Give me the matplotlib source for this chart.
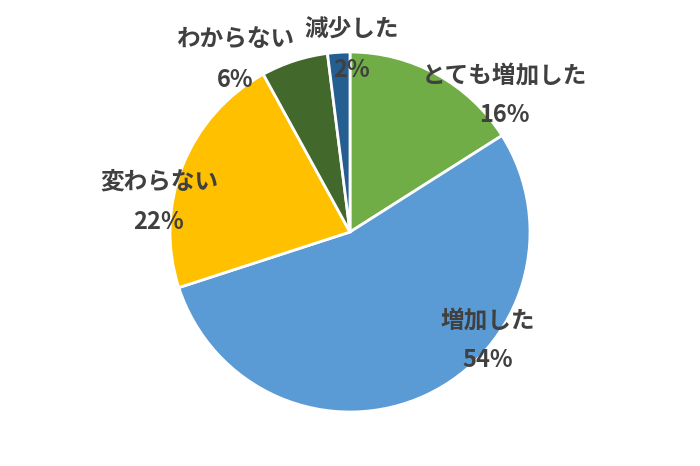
import matplotlib.pyplot as plt

plt.rcParams['font.family'] = ['Noto Sans CJK JP', 'DejaVu Sans']

labels = ['とても増加した', '増加した', '変わらない', 'わからない', '減少した']
values = [16, 54, 22, 6, 2]
colors = ['#70AD47', '#5B9BD5', '#FFC000', '#43682B', '#255E91']

# label block centres (pie radius = 1, centre at origin)
label_pos = [(0.856, 0.761), (0.767, -0.6), (-1.061, 0.167), (-0.64, 0.956), (0.011, 1.011)]

fig = plt.figure(figsize=(7, 4.66), dpi=100)
ax = fig.add_axes([0, 0, 1, 1])

ax.pie(values, colors=colors, startangle=90, counterclock=False, radius=1,
       wedgeprops=dict(edgecolor='white', linewidth=2))

for lab, v, (x, y) in zip(labels, values, label_pos):
    ax.text(x, y + 0.111, lab, ha='center', va='center', fontsize=17,
            color='#404040', fontweight='bold')
    ax.text(x, y - 0.111, f'{v}%', ha='center', va='center', fontsize=17,
            color='#404040', fontweight='bold')

ax.set_xlim(-350 / 180, 350 / 180)
ax.set_ylim(-234 / 180, 232 / 180)
ax.set_aspect('auto')
ax.axis('off')

fig.savefig('out.png', dpi=100)
